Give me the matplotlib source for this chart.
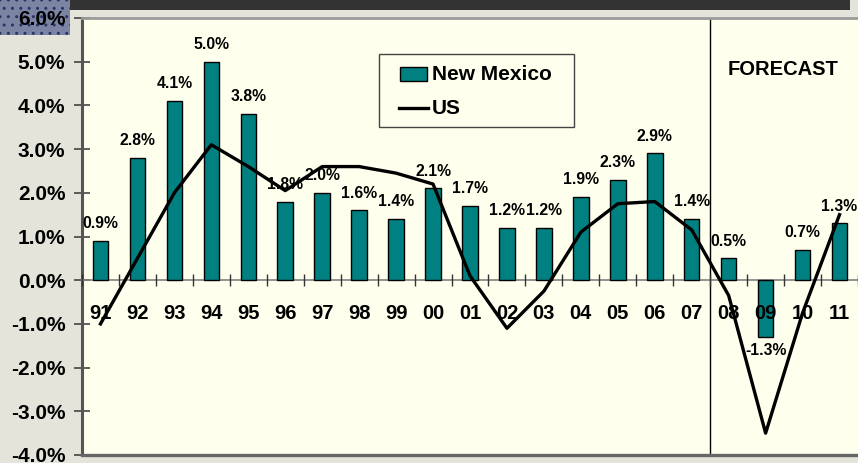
import matplotlib
matplotlib.use("Agg")
import matplotlib.pyplot as plt
from matplotlib.patches import Rectangle
from matplotlib.lines import Line2D
import numpy as np

years = ["91", "92", "93", "94", "95", "96", "97", "98", "99", "00", "01",
         "02", "03", "04", "05", "06", "07", "08", "09", "10", "11"]
nm_values = [0.9, 2.8, 4.1, 5.0, 3.8, 1.8, 2.0, 1.6, 1.4, 2.1, 1.7,
             1.2, 1.2, 1.9, 2.3, 2.9, 1.4, 0.5, -1.3, 0.7, 1.3]
us_values = [-1.0, 0.5, 2.0, 3.1, 2.6, 2.05, 2.6, 2.6, 2.45, 2.2, 0.1,
             -1.1, -0.25, 1.1, 1.75, 1.8, 1.15, -0.35, -3.5, -0.75, 1.5]
y_ticks = [-4, -3, -2, -1, 0, 1, 2, 3, 4, 5, 6]
forecast_start = "08"

FONT = "Liberation Sans"
TEAL = "#008080"
W, H = 858, 463

fig = plt.figure(figsize=(W / 100, H / 100), dpi=100, facecolor="#E4E4DA")

# decorative top band and corner
fig.add_artist(Rectangle((70 / W, 1 - 10 / H), 780 / W, 10 / H,
                         transform=fig.transFigure, facecolor="#333333",
                         edgecolor="none", zorder=0))
fig.add_artist(Rectangle((0, 1 - 35 / H), 70 / W, 35 / H,
                         transform=fig.transFigure, facecolor="#7C84A4",
                         edgecolor="#2B3566", hatch="..", linewidth=0, zorder=0))

ax = fig.add_axes([82 / W, 1 - 455 / H, 776 / W, 437 / H])
ax.set_facecolor("#FFFFEE")

x = np.arange(len(years))
ax.bar(x, nm_values, width=0.42, color=TEAL, edgecolor="black", linewidth=1.0, zorder=3)
ax.plot(x, us_values, color="black", linewidth=2.4, zorder=6, solid_joinstyle="round")

ax.set_xlim(-0.5, len(years) - 0.5)
ax.set_ylim(-4, 6)

# value labels
for xi, v in zip(x, nm_values):
    if v >= 0:
        ax.annotate(f"{v:.1f}%", (xi, v), xytext=(0, 7), textcoords="offset points",
                    ha="center", va="bottom", fontsize=11.3, fontweight="bold",
                    family=FONT, zorder=5)
    else:
        ax.annotate(f"{v:.1f}%", (xi, v), xytext=(0, -4), textcoords="offset points",
                    ha="center", va="top", fontsize=11.3, fontweight="bold",
                    family=FONT, zorder=5)

# spines
for s in ["top", "right"]:
    ax.spines[s].set_visible(False)
ax.spines["left"].set_color("#555555")
ax.spines["left"].set_linewidth(2.2)
ax.spines["bottom"].set_position(("data", 0))
ax.spines["bottom"].set_color("#808080")
ax.spines["bottom"].set_linewidth(1.2)
ax.axhline(-4, color="#666666", linewidth=2.4, clip_on=False, zorder=7)
ax.axhline(6, color="#9A9A9A", linewidth=2.0, clip_on=False, zorder=7)

# y ticks
ax.set_yticks(y_ticks)
ax.set_yticklabels([f"{t:.1f}%" for t in y_ticks])
ax.tick_params(axis="y", direction="inout", length=12, width=1.2, color="#444444",
               pad=6, labelsize=15)
for lab in ax.get_yticklabels():
    lab.set_fontweight("bold")
    lab.set_family(FONT)

# x ticks: boundaries as major ticks, labels on minor ticks at centers
ax.set_xticks(np.arange(-0.5, len(years), 1.0))
ax.set_xticklabels([])
ax.tick_params(axis="x", which="major", direction="inout", length=9, width=1.0,
               color="#333333")
ax.set_xticks(x, minor=True)
ax.set_xticklabels(years, minor=True)
ax.tick_params(axis="x", which="minor", length=0, pad=17, labelsize=14.5)
for lab in ax.get_xticklabels(minor=True):
    lab.set_fontweight("bold")
    lab.set_family(FONT)
ax.xaxis.set_zorder(5)

# forecast divider
fx = years.index(forecast_start) - 0.5
ax.axvline(fx, color="black", linewidth=1.0, zorder=2)
ax.text(0.903, 0.882, "FORECAST", transform=ax.transAxes, ha="center", va="center",
        fontsize=14.5, fontweight="bold", family=FONT)

# legend (drawn by hand to match the boxed layout)
def ax_x(px):
    return (px - 82) / 776

def ax_y(py):
    return (455 - py) / 437

ax.add_patch(Rectangle((ax_x(379), ax_y(127)), ax_x(574) - ax_x(379), ax_y(54) - ax_y(127),
                       transform=ax.transAxes, facecolor="#FFFFEE", edgecolor="#444444",
                       linewidth=1.0, zorder=8))
ax.add_patch(Rectangle((ax_x(400), ax_y(81)), ax_x(427) - ax_x(400), ax_y(67) - ax_y(81),
                       transform=ax.transAxes, facecolor=TEAL, edgecolor="black",
                       linewidth=1.0, zorder=9))
ax.add_line(Line2D([ax_x(399), ax_x(428)], [ax_y(108), ax_y(108)], transform=ax.transAxes,
                   color="black", linewidth=2.4, zorder=9))
ax.text(ax_x(432), ax_y(74), "New Mexico", transform=ax.transAxes, ha="left", va="center",
        fontsize=15, fontweight="bold", family=FONT, zorder=9)
ax.text(ax_x(432), ax_y(108), "US", transform=ax.transAxes, ha="left", va="center",
        fontsize=15, fontweight="bold", family=FONT, zorder=9)

fig.savefig("out.png", dpi=100, facecolor=fig.get_facecolor())
